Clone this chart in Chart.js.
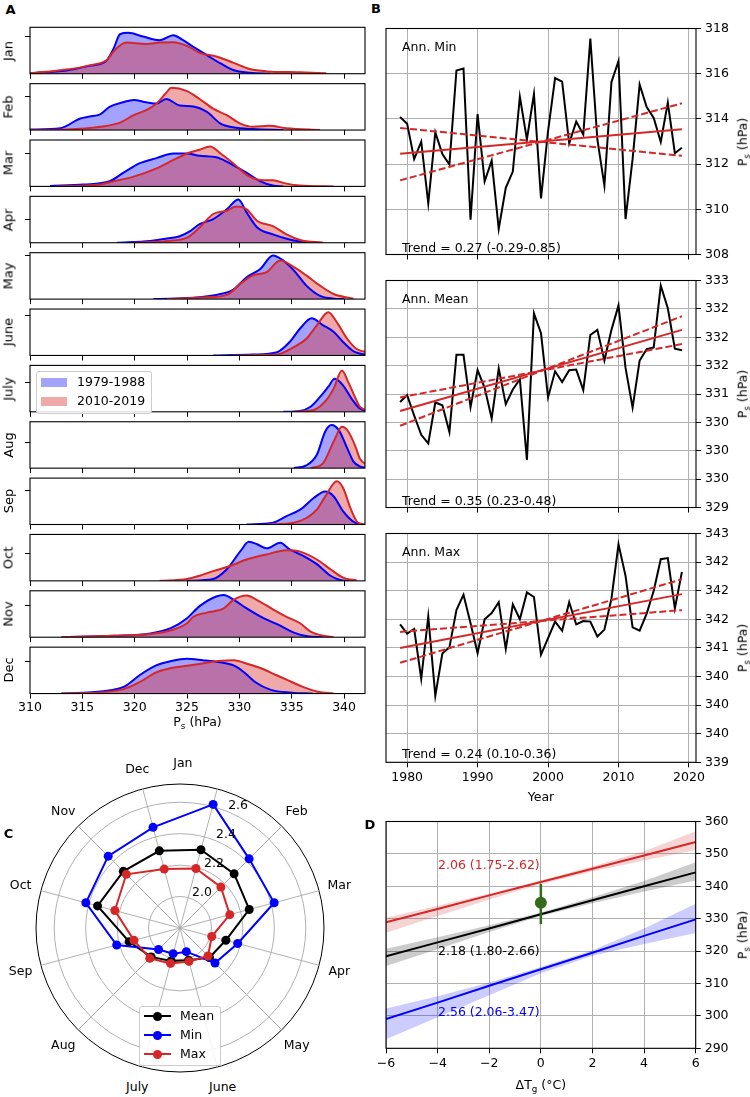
<!DOCTYPE html>
<html>
<head>
<meta charset="utf-8">
<script src="https://cdn.jsdelivr.net/npm/chart.js@4.4.0/dist/chart.umd.min.js"></script>
<style>
  body { margin: 0; background: #fff; }
  #fig { position: relative; width: 750px; height: 1097px; overflow: hidden; font-family: 'DejaVu Sans', sans-serif; color: #000; }
  #fig canvas { position: absolute; }
  .t { position: absolute; white-space: nowrap; font-size: 12.5px; line-height: 1; }
  .sub { font-size: 70%; position: relative; top: 0.35em; }
  .box { position: absolute; background: rgba(255,255,255,0.85); border: 1px solid #ccc; border-radius: 3px; }
</style>
</head>
<body>
<div id="fig"></div>
<script>
// ---------------- data ----------------
const months = ['Jan', 'Feb', 'Mar', 'Apr', 'May', 'June', 'July', 'Aug', 'Sep', 'Oct', 'Nov', 'Dec'];
const pTicks = [310, 315, 320, 325, 330, 335, 340];

// panel A: density curves [Ps, height], 1979-1988
const kdeOld = [
  [[310,0.01],[313.5,0.07],[315.7,0.17],[317.3,0.28],[318,0.55],[318.6,0.85],[319.4,0.88],[320.8,0.8],[322.4,0.72],[323.7,0.83],[324.5,0.74],[325.6,0.58],[326.9,0.4],[328.2,0.22],[329.4,0.08],[331,0.02],[333,0]],
  [[310,0.01],[312.9,0.04],[314.8,0.25],[315.7,0.29],[316.7,0.34],[317.6,0.5],[318.9,0.6],[319.9,0.65],[321.1,0.6],[322.1,0.57],[323,0.67],[324.3,0.53],[325.6,0.51],[326.9,0.39],[328.2,0.14],[329.4,0.06],[331.3,0.02],[334.2,0]],
  [[311.9,0.01],[315.1,0.04],[317.6,0.11],[318.9,0.29],[320.5,0.5],[322.1,0.61],[323.7,0.71],[325,0.71],[326.2,0.66],[327.8,0.63],[329.4,0.46],[330.7,0.29],[332,0.11],[333.2,0.02],[334.2,0]],
  [[318.3,0],[321.5,0.04],[323.1,0.09],[324.3,0.14],[325.3,0.25],[326.2,0.4],[327.5,0.51],[328.8,0.72],[329.9,0.93],[330.7,0.65],[331.7,0.33],[333.2,0.18],[334.8,0.07],[336.4,0]],
  [[321.8,0],[326.2,0.04],[328.2,0.11],[329.4,0.2],[330.7,0.47],[332,0.65],[333.2,0.94],[334.2,0.83],[335.2,0.62],[336.4,0.29],[337.7,0.07],[339,0.01],[340,0]],
  [[327.5,0],[331.3,0.02],[333.6,0.07],[334.8,0.29],[335.8,0.58],[336.9,0.8],[338,0.65],[339,0.51],[339.9,0.29],[340.9,0.09],[341.5,0.04],[342.5,0.01]],
  [[334.2,0],[335.8,0.02],[336.8,0.11],[337.7,0.32],[338.5,0.54],[339.1,0.71],[339.9,0.57],[340.7,0.29],[341.5,0.07],[342.5,0.01]],
  [[335.2,0],[336.4,0.06],[337.4,0.29],[338.2,0.79],[338.8,0.93],[339.5,0.82],[340.3,0.43],[340.9,0.14],[341.5,0.04],[342.5,0]],
  [[330.7,0],[333.2,0.04],[334.5,0.18],[335.8,0.32],[337.1,0.57],[338.2,0.71],[339,0.61],[339.9,0.29],[340.9,0.06],[341.5,0.01]],
  [[325,0],[327.5,0.04],[328.8,0.25],[330.1,0.64],[330.9,0.84],[331.7,0.79],[332.6,0.7],[333.9,0.82],[334.8,0.68],[336.1,0.54],[337.4,0.36],[338.7,0.11],[339.6,0.02],[340.5,0]],
  [[313,0],[318,0.03],[321.5,0.08],[323.5,0.2],[325,0.41],[326.2,0.67],[327.5,0.85],[328.5,0.91],[329.5,0.8],[330.7,0.62],[332.3,0.41],[333.9,0.25],[335.2,0.1],[336.5,0.02],[338,0]],
  [[313,0],[317,0.05],[319,0.15],[320.5,0.4],[322,0.6],[323.5,0.7],[325,0.75],[326.5,0.72],[328,0.68],[329.5,0.6],[330.5,0.45],[331.5,0.25],[333,0.08],[335,0.02],[337,0]]
];
// 2010-2019
const kdeNew = [
  [[310,0.01],[313.5,0.09],[315.7,0.18],[317.3,0.29],[318.1,0.51],[319.2,0.67],[321.1,0.64],[322.4,0.67],[323.7,0.68],[325,0.6],[326.2,0.45],[327.8,0.37],[329.4,0.24],[331,0.1],[332.6,0.05],[335.8,0.03],[338.3,0.01]],
  [[310,0],[313.5,0.01],[316.7,0.07],[318.6,0.16],[319.9,0.32],[321.1,0.43],[322.1,0.57],[323,0.8],[323.5,0.91],[325,0.84],[326.2,0.67],[327.5,0.46],[328.8,0.32],[330.1,0.14],[331.3,0.07],[332.9,0.09],[334.5,0.04],[337.7,0]],
  [[312.5,0],[316.7,0.04],[318,0.11],[319.9,0.21],[321.8,0.36],[323.7,0.57],[325,0.71],[326.2,0.79],[327.2,0.86],[328.2,0.71],[329.4,0.5],[330.7,0.25],[332,0.14],[333.2,0.13],[334.5,0.06],[335.8,0.02],[339,0]],
  [[319.9,0],[323.1,0.04],[325,0.11],[326.2,0.33],[327.5,0.62],[328.8,0.69],[329.7,0.78],[330.7,0.72],[331.7,0.47],[333.2,0.36],[334.5,0.18],[335.8,0.06],[338,0]],
  [[323.1,0],[326.9,0.04],[328.8,0.09],[330.1,0.33],[331.3,0.51],[332.6,0.58],[333.9,0.83],[335.2,0.69],[336.4,0.51],[337.7,0.29],[339,0.11],[340.9,0.01]],
  [[329.4,0],[333.6,0.02],[335.2,0.18],[336.4,0.36],[337.4,0.65],[338.5,0.93],[339.3,0.72],[340.3,0.36],[341.2,0.14],[342.5,0.06]],
  [[335.2,0],[337.1,0.04],[338.3,0.25],[339,0.5],[339.8,0.89],[340.4,0.64],[341.1,0.29],[341.5,0.11],[342.5,0.02]],
  [[336.8,0],[338,0.11],[339,0.57],[339.8,0.89],[340.4,0.79],[341.1,0.46],[341.5,0.21],[342.5,0.04]],
  [[332.6,0],[335.2,0.04],[336.4,0.14],[337.4,0.32],[338.3,0.64],[339.3,0.93],[339.9,0.79],[340.6,0.36],[341.2,0.07],[341.5,0.02],[342.5,0]],
  [[322.4,0],[325,0.04],[326.2,0.11],[327.5,0.21],[329.1,0.32],[330.7,0.46],[332.6,0.57],[334.5,0.66],[335.8,0.63],[337.4,0.46],[338.7,0.25],[339.9,0.07],[341.2,0.01]],
  [[313,0],[318,0.03],[321.5,0.07],[323.5,0.15],[325,0.3],[325.6,0.44],[326.9,0.53],[328.5,0.62],[329.4,0.8],[330.7,0.9],[331.7,0.8],[333.2,0.6],[334.5,0.44],[335.8,0.3],[336.8,0.12],[338,0.03],[339,0]],
  [[313,0],[317,0.03],[319,0.1],[320.5,0.25],[322,0.45],[323.5,0.55],[325,0.6],[326.5,0.65],[328,0.7],[329.5,0.72],[330.5,0.66],[332,0.55],[333.5,0.4],[334.5,0.3],[336,0.15],[337.5,0.04],[339,0]]
];
// one y tick per month row
const yTickA = [0.80, 0.73, 0.71, 0.51, 0.94, 0.86, 0.64, 0.55, 0.74, 0.59, 0.68, 0.70];

// panel B: annual series 1979-2019
const years = [];
for (let y = 1979; y <= 2019; y++) years.push(y);
const yearTicks = [1980, 1990, 2000, 2010, 2020];
const annMin = [314.08,313.79,312.22,312.99,310.26,313.40,312.44,311.98,316.14,316.23,309.54,314.21,311.24,312.15,309.13,310.95,311.67,314.98,313.09,315.10,310.48,313.46,315.81,315.65,312.92,313.88,313.31,317.55,313.09,311.05,315.63,316.56,309.57,312.22,315.52,314.52,314.04,312.98,314.72,312.48,312.72];
const annMean = [330.86,330.98,330.62,330.28,330.13,330.85,330.80,330.33,331.69,331.69,330.77,331.42,331.11,330.57,331.45,330.82,331.08,331.26,329.84,332.42,332.07,330.94,331.40,331.21,331.42,331.43,331.07,332.04,332.13,331.59,332.13,332.56,331.46,330.76,331.59,331.79,331.82,332.91,332.51,331.80,331.77];
const annMax = [341.41,341.25,341.33,340.46,341.55,340.16,340.90,341.01,341.66,341.93,341.43,340.91,341.50,341.61,341.80,340.98,341.76,341.50,341.97,341.89,340.88,341.17,341.46,341.30,341.80,341.41,341.47,341.46,341.20,341.32,341.86,342.81,342.26,341.36,341.30,341.60,342.00,342.55,342.57,341.69,342.33];
// trend lines, values at 1979 and 2019
const trendYears = [1979, 2019];
const trendMin = [312.46, 313.54], trendMinLow = [313.60, 312.37], trendMinHigh = [311.28, 314.69];
const trendMean = [330.70, 332.13], trendMeanLow = [330.94, 331.88], trendMeanHigh = [330.44, 332.37];
const trendMax = [341.00, 341.94], trendMaxLow = [341.28, 341.66], trendMaxHigh = [340.74, 342.20];
const ticksMin = [308, 310, 312, 314, 316, 318];
const ticksMean = [329, 329.5, 330, 330.5, 331, 331.5, 332, 332.5, 333];
const ticksMax = [339, 339.5, 340, 340.5, 341, 341.5, 342, 342.5, 343];

// panel C: scaling by month
const polarMean = [2.315, 2.287, 2.256, 2.102, 2.065, 2.012, 2.017, 2.060, 2.135, 2.343, 2.310, 2.308];
const polarMin = [2.614, 2.422, 2.420, 2.180, 2.115, 1.956, 1.969, 1.993, 2.217, 2.420, 2.446, 2.463];
const polarMax = [2.192, 2.168, 2.128, 2.009, 2.052, 2.020, 2.033, 2.072, 2.103, 2.229, 2.283, 2.188];
const rTicks = [1.8, 2.0, 2.2, 2.4, 2.6, 2.716];
const rLabels = [2.0, 2.2, 2.4, 2.6];
// month label directions (deg clockwise from north)
const monthLabelAngle = [1, 45, 75, 105, 135, 165, 195, 225, 255, 285, 315, 345];

// panel D: Ps vs global temperature change
const dT = [-6, -4, -2, 0, 2, 4, 6];
const fitMax = [328.9, 333.0, 337.2, 341.3, 345.4, 349.5, 353.7];
const fitMaxUp = [330.3, 334.0, 337.8, 341.8, 346.2, 350.8, 357.0];
const fitMaxLo = [325.7, 330.8, 335.9, 340.6, 344.6, 348.0, 351.2];
const fitMean = [318.4, 322.7, 327.0, 331.4, 335.7, 340.0, 344.3];
const fitMeanUp = [320.7, 324.3, 328.0, 331.9, 336.6, 341.6, 347.4];
const fitMeanLo = [315.4, 320.6, 325.9, 330.8, 334.8, 338.4, 341.8];
const fitMin = [299.0, 304.1, 309.3, 314.4, 319.5, 324.7, 329.8];
const fitMinUp = [302.3, 306.1, 310.3, 315.1, 320.3, 327.0, 334.6];
const fitMinLo = [292.8, 299.6, 306.4, 313.2, 318.6, 322.2, 325.6];
const obsP = [334.9], obsRange = [328.4, 340.7];
const dTicksX = [-6, -4, -2, 0, 2, 4, 6];
const dTicksY = [290, 300, 310, 320, 330, 340, 350, 360];

// ---------------- helpers ----------------
Chart.defaults.font.family = "'DejaVu Sans', sans-serif";
Chart.defaults.font.size = 12.5;
Chart.defaults.color = '#000';

const RED = '#d62728', BLUE = '#0000ff', GRID = '#b0b0b0';
const fig = document.getElementById('fig');

function canvasAt(left, top, w, h) {
  const c = document.createElement('canvas');
  c.width = w; c.height = h;
  c.style.left = left + 'px'; c.style.top = top + 'px';
  c.style.width = w + 'px'; c.style.height = h + 'px';
  fig.appendChild(c);
  return c;
}

function text(html, x, y, o = {}) {
  const d = document.createElement('div');
  d.className = 't';
  d.innerHTML = html;
  d.style.left = x + 'px';
  d.style.top = y + 'px';
  if (o.size) d.style.fontSize = o.size + 'px';
  if (o.bold) d.style.fontWeight = 'bold';
  if (o.color) d.style.color = o.color;
  const ax = o.align === 'left' ? '0' : '-50%';
  d.style.transform = `translate(${ax},-50%)` + (o.rot ? ` rotate(${o.rot}deg)` : '');
  fig.appendChild(d);
  return d;
}

function pyRound(v) {
  const f = Math.floor(v);
  if (Math.abs(v - f - 0.5) < 1e-9) return f % 2 === 0 ? f : f + 1;
  return Math.round(v);
}

const xy = (xs, ys) => xs.map((x, i) => ({ x: x, y: ys[i] }));
const pairs = arr => arr.map(p => ({ x: p[0], y: p[1] }));

// black box round the plot area
const frame = {
  id: 'frame',
  afterDraw(chart) {
    const a = chart.chartArea, c = chart.ctx;
    c.save();
    c.strokeStyle = '#000';
    c.lineWidth = 1.1;
    c.strokeRect(a.left, a.top, a.right - a.left, a.bottom - a.top);
    c.restore();
  }
};

const PS = 'P<span class="sub">s</span> (hPa)';

// ---------------- panel A ----------------
text('A', 10.5, 9, { bold: true, size: 13 });
const aTop = 27.3, aStep = 56.35, aH = 46.4, aLeft = 30, aRight = 365, aW = 372;
months.forEach((m, i) => {
  const top = aTop + aStep * i;
  const last = i === months.length - 1;
  const axisH = last ? 24 : 8;
  const cTop = Math.floor(top) - 4, padTop = top - cTop;
  const cH = Math.ceil(padTop + aH + axisH) + 1;
  const cv = canvasAt(0, cTop, aW, cH);
  new Chart(cv, {
    type: 'line',
    data: {
      datasets: [
        { data: pairs(kdeNew[i]), borderColor: RED, borderWidth: 2, order: 0 },
        { data: pairs(kdeOld[i]), borderColor: BLUE, borderWidth: 2, order: 1 },
        { data: pairs(kdeNew[i]), backgroundColor: 'rgba(214,39,40,0.4)', borderWidth: 0, fill: 'origin', order: 2 },
        { data: pairs(kdeOld[i]), backgroundColor: 'rgba(0,0,255,0.36)', borderWidth: 0, fill: 'origin', order: 3 }
      ]
    },
    options: {
      responsive: false, animation: false, events: [],
      layout: { padding: { left: aLeft - 6, right: aW - aRight, top: padTop, bottom: cH - padTop - aH - axisH } },
      plugins: { legend: { display: false }, tooltip: { enabled: false } },
      elements: { point: { radius: 0 }, line: { cubicInterpolationMode: 'monotone' } },
      scales: {
        x: {
          type: 'linear', min: 310, max: 342,
          afterBuildTicks: s => { s.ticks = pTicks.map(v => ({ value: v })); },
          afterFit: s => { s.height = axisH; },
          ticks: { display: last, padding: 2, callback: v => String(v) },
          grid: { drawOnChartArea: false, tickLength: 5, color: '#000' },
          border: { display: false }
        },
        y: {
          min: 0, max: 1,
          afterBuildTicks: s => { s.ticks = [{ value: yTickA[i] }]; },
          afterFit: s => { s.width = 6; },
          ticks: { display: false },
          grid: { drawOnChartArea: false, tickLength: 5, color: '#000' },
          border: { display: false }
        }
      }
    },
    plugins: [frame]
  });
  text(m, 8, top + aH / 2, { rot: -90, size: 13 });
});
text(PS, (aLeft + aRight) / 2, 722);

// legend inside the July row
const legA = document.createElement('div');
legA.className = 'box';
Object.assign(legA.style, { left: '36px', top: '371px', width: '114px', height: '41px' });
fig.appendChild(legA);
[['1979-1988', 'rgba(0,0,255,0.36)', 382], ['2010-2019', 'rgba(214,39,40,0.4)', 401]].forEach(([name, col, y]) => {
  const p = document.createElement('div');
  Object.assign(p.style, { position: 'absolute', left: '41px', top: (y - 4.5) + 'px', width: '26px', height: '9px', background: col });
  fig.appendChild(p);
  text(name, 77, y, { align: 'left' });
});

// ---------------- panel B ----------------
text('B', 376, 8, { bold: true, size: 13 });
const bBox = [[27.3, 257.0], [279.3, 509.3], [532.7, 762.3]];
const bSeries = [annMin, annMean, annMax];
const bMid = [trendMin, trendMean, trendMax];
const bLow = [trendMinLow, trendMeanLow, trendMaxLow];
const bHigh = [trendMinHigh, trendMeanHigh, trendMaxHigh];
const bTicks = [ticksMin, ticksMean, ticksMax];
const bNames = ['Ann. Min', 'Ann. Mean', 'Ann. Max'];
const bTrendText = ['Trend = 0.27 (-0.29-0.85)', 'Trend = 0.35 (0.23-0.48)', 'Trend = 0.24 (0.10-0.36)'];
const bLeft = 386, bRight = 696, bCL = 370, bW = 380;

bBox.forEach(([t, b], k) => {
  const last = k === bBox.length - 1;
  const axisH = last ? 30 : 8;
  const cTop = Math.floor(t) - 10, padTop = t - cTop;
  const cH = Math.ceil(padTop + (b - t) + axisH) + 1;
  const cv = canvasAt(bCL, cTop, bW, cH);
  const dash = { borderColor: RED, borderWidth: 2, borderDash: [7, 3] };
  new Chart(cv, {
    type: 'line',
    data: {
      datasets: [
        { data: xy(trendYears, bMid[k]), borderColor: RED, borderWidth: 2, order: 0 },
        Object.assign({ data: xy(trendYears, bLow[k]), order: 1 }, dash),
        Object.assign({ data: xy(trendYears, bHigh[k]), order: 2 }, dash),
        { data: xy(years, bSeries[k]), borderColor: '#000', borderWidth: 2, order: 3 }
      ]
    },
    options: {
      responsive: false, animation: false, events: [],
      layout: { padding: { left: bLeft - bCL, right: 0, top: padTop, bottom: cH - padTop - (b - t) - axisH } },
      plugins: { legend: { display: false }, tooltip: { enabled: false } },
      elements: { point: { radius: 0 }, line: { tension: 0 } },
      scales: {
        x: {
          type: 'linear', min: 1977, max: 2021,
          afterBuildTicks: s => { s.ticks = yearTicks.map(v => ({ value: v })); },
          afterFit: s => { s.height = axisH; },
          ticks: { display: last, padding: 3, callback: v => String(v) },
          grid: { color: GRID, tickColor: '#000', tickLength: 5, lineWidth: 1 },
          border: { display: false }
        },
        y: {
          position: 'right',
          min: bTicks[k][0], max: bTicks[k][bTicks[k].length - 1],
          afterBuildTicks: s => { s.ticks = bTicks[k].map(v => ({ value: v })); },
          afterFit: s => { s.width = bCL + bW - bRight; },
          ticks: { padding: 4, callback: v => String(pyRound(v)) },
          grid: { color: GRID, tickColor: '#000', tickLength: 5, lineWidth: 1 },
          border: { display: false }
        }
      }
    },
    plugins: [frame]
  });
  text(bNames[k], 402, t + 19.4, { align: 'left' });
  text(bTrendText[k], 402, b - 8.7, { align: 'left' });
  text(PS, 743, (t + b) / 2, { rot: -90 });
});
text('Year', (bLeft + bRight) / 2, 797);

// ---------------- panel C ----------------
text('C', 8.5, 833, { bold: true, size: 13 });
const cvC = canvasAt(30, 778, 300, 300);
const polarSet = (label, vals, col, ord) => ({
  label: label, data: vals, borderColor: col, backgroundColor: col,
  pointBackgroundColor: col, pointBorderColor: col, fill: false, order: ord
});
const chartC = new Chart(cvC, {
  type: 'radar',
  data: {
    labels: months,
    datasets: [
      polarSet('Mean', polarMean, '#000', 2),
      polarSet('Min', polarMin, BLUE, 1),
      polarSet('Max', polarMax, RED, 0)
    ]
  },
  options: {
    responsive: false, animation: false, events: [],
    layout: { padding: 6 },
    plugins: { legend: { display: false }, tooltip: { enabled: false } },
    elements: { line: { borderWidth: 2, tension: 0 }, point: { radius: 4.5, borderWidth: 0 } },
    scales: {
      r: {
        min: 1.8, max: 2.716, startAngle: 15,
        afterBuildTicks: s => { s.ticks = rTicks.map(v => ({ value: v })); },
        ticks: { display: false },
        pointLabels: { display: false },
        grid: { circular: true, color: c => (c.tick && c.tick.value > 2.7 ? '#000' : GRID), lineWidth: 1 },
        angleLines: { color: GRID, lineWidth: 1 }
      }
    }
  }
});
(function () {
  const s = chartC.scales.r;
  const cx = 30 + s.xCenter, cy = 778 + s.yCenter;
  const rl = s.drawingArea + 21;
  months.forEach((m, i) => {
    const a = monthLabelAngle[i] * Math.PI / 180;
    text(m, cx + rl * Math.sin(a), cy - rl * Math.cos(a));
  });
  const ang = 22.5 * Math.PI / 180;
  rLabels.forEach(v => {
    const r = s.getDistanceFromCenterForValue(v);
    text(v.toFixed(1), cx + r * Math.sin(ang), cy - r * Math.cos(ang) - 7, { align: 'left' });
  });
})();

const legC = document.createElement('div');
legC.className = 'box';
Object.assign(legC.style, { left: '139px', top: '1006px', width: '80px', height: '58px' });
fig.appendChild(legC);
[['Mean', '#000', 1016], ['Min', BLUE, 1035], ['Max', RED, 1054]].forEach(([name, col, y]) => {
  const ln = document.createElement('div');
  Object.assign(ln.style, { position: 'absolute', left: '144px', top: (y - 1) + 'px', width: '27px', height: '2px', background: col });
  fig.appendChild(ln);
  const dot = document.createElement('div');
  Object.assign(dot.style, { position: 'absolute', left: '153px', top: (y - 4.5) + 'px', width: '9px', height: '9px', borderRadius: '50%', background: col });
  fig.appendChild(dot);
  text(name, 180, y, { align: 'left' });
});

// ---------------- panel D ----------------
text('D', 370, 824, { bold: true, size: 13 });
const dLeft = 386, dRight = 695.7, dTop = 820.7, dBottom = 1048.3;
const dCL = 370, dCT = 810, dW = 380, dH = 287;
const band = (vals, col, fill, ord) => ({ data: xy(dT, vals), borderWidth: 0, backgroundColor: col, fill: fill, order: ord });
const fitLine = (vals, col) => ({ data: xy(dT, vals), borderColor: col, borderWidth: 2, order: 2 });
new Chart(canvasAt(dCL, dCT, dW, dH), {
  type: 'line',
  data: {
    datasets: [
      band(fitMaxUp, 'rgba(214,39,40,0.2)', '+1', 3),
      band(fitMaxLo, 'rgba(0,0,0,0)', false, 3),
      band(fitMeanUp, 'rgba(0,0,0,0.2)', '+1', 3),
      band(fitMeanLo, 'rgba(0,0,0,0)', false, 3),
      band(fitMinUp, 'rgba(0,0,255,0.2)', '+1', 3),
      band(fitMinLo, 'rgba(0,0,0,0)', false, 3),
      fitLine(fitMax, RED),
      fitLine(fitMean, '#000'),
      fitLine(fitMin, BLUE),
      { data: xy([0, 0], obsRange), borderColor: '#336b1a', borderWidth: 2.5, order: 1 },
      { data: xy([0], obsP), showLine: false, pointRadius: 6, pointBackgroundColor: '#336b1a', pointBorderWidth: 0, order: 0 }
    ]
  },
  options: {
    responsive: false, animation: false, events: [],
    layout: { padding: { left: dLeft - dCL, right: 0, top: dTop - dCT, bottom: 0 } },
    plugins: { legend: { display: false }, tooltip: { enabled: false } },
    elements: { point: { radius: 0 }, line: { tension: 0 } },
    scales: {
      x: {
        type: 'linear', min: -6, max: 6,
        afterBuildTicks: s => { s.ticks = dTicksX.map(v => ({ value: v })); },
        afterFit: s => { s.height = dH - (dBottom - dCT); },
        ticks: { padding: 3, callback: v => (v < 0 ? '\u2212' + Math.abs(v) : String(v)) },
        grid: { color: GRID, tickColor: '#000', tickLength: 5, lineWidth: 1 },
        border: { display: false }
      },
      y: {
        position: 'right', min: 290, max: 360,
        afterBuildTicks: s => { s.ticks = dTicksY.map(v => ({ value: v })); },
        afterFit: s => { s.width = dCL + dW - dRight; },
        ticks: { padding: 4 },
        grid: { color: GRID, tickColor: '#000', tickLength: 5, lineWidth: 1 },
        border: { display: false }
      }
    }
  },
  plugins: [frame]
});
text('2.06 (1.75-2.62)', 438, 865, { align: 'left', color: RED });
text('2.18 (1.80-2.66)', 438, 951, { align: 'left' });
text('2.56 (2.06-3.47)', 438, 1012, { align: 'left', color: BLUE });
text('\u0394T<span class="sub">g</span> (\u00b0C)', (dLeft + dRight) / 2, 1085);
text(PS, 743, (dTop + dBottom) / 2, { rot: -90 });
</script>
</body>
</html>
